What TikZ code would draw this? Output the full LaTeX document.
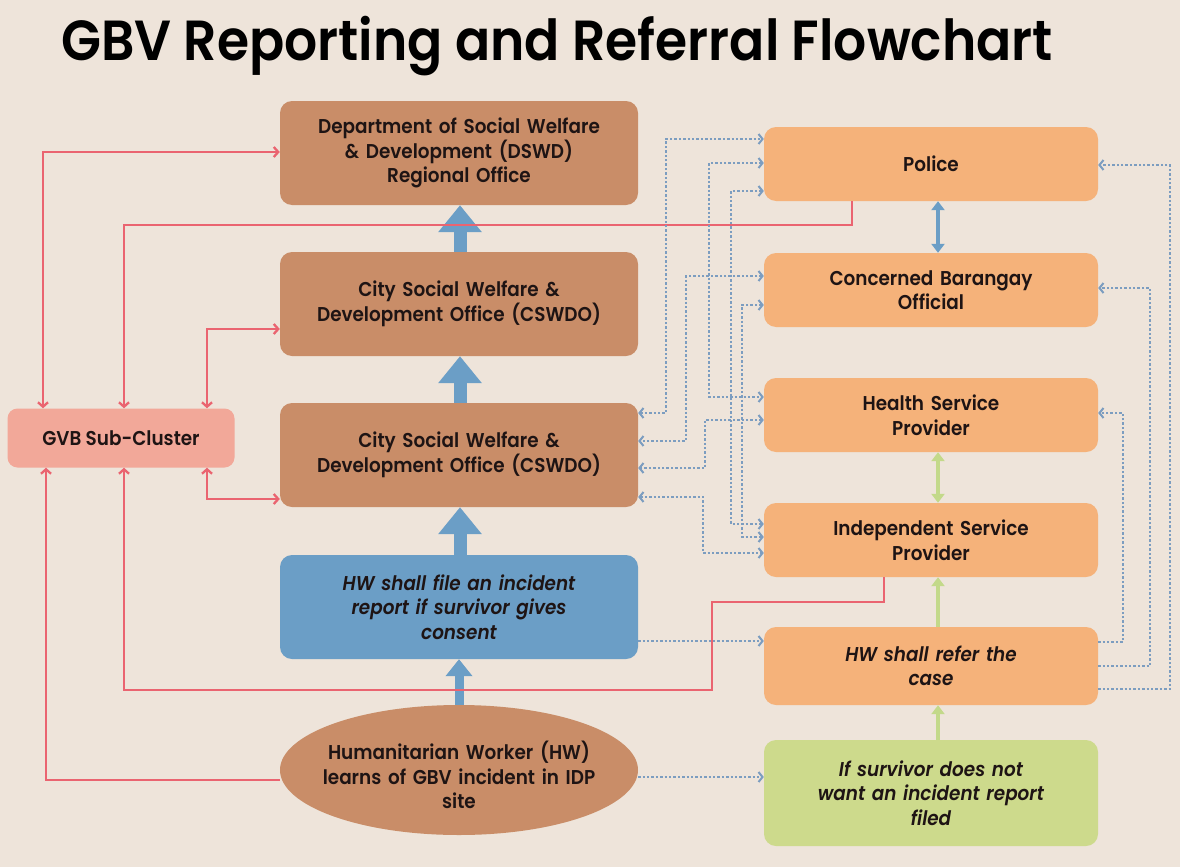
\documentclass[tikz,border=0pt]{standalone}
\usepackage{fontspec}
\setmainfont{Poppins}[FakeStretch=0.92, BoldFont={Poppins SemiBold}, BoldItalicFont={Poppins SemiBold Italic}]
\usetikzlibrary{arrows.meta,shapes.geometric}
\definecolor{bg}{HTML}{EEE4DA}
\definecolor{brownbox}{HTML}{C98D68}
\definecolor{bluebox}{HTML}{6B9EC6}
\definecolor{pinkbox}{HTML}{F2A899}
\definecolor{orangebox}{HTML}{F5B27A}
\definecolor{greenbox}{HTML}{CDDA8C}
\definecolor{redline}{HTML}{EA6470}
\definecolor{dotcol}{HTML}{7C9DC0}
\definecolor{greenarr}{HTML}{C3D98A}
\definecolor{txt}{HTML}{1E1414}
\begin{document}
\begin{tikzpicture}[x=1pt,y=-1pt,
  box/.style={rectangle, rounded corners=12pt, text=txt, align=center, inner sep=0pt,
    font=\fontsize{20}{24.5}\selectfont\bfseries},
  ibox/.style={box, font=\fontsize{20}{24.5}\selectfont\bfseries\itshape},
  brownb/.style={box, fill=brownbox, minimum width=358pt, minimum height=104pt, text width=350pt},
  orangeb/.style={box, fill=orangebox, minimum width=334pt, minimum height=74pt, text width=326pt},
  redl/.style={draw=redline, line width=2.3pt, >={Straight Barb[length=4.5pt,width=10pt]}},
  dotl/.style={draw=dotcol, line width=2.4pt, dash pattern=on 2.4pt off 2pt, >={Straight Barb[length=4pt,width=10pt,line width=2pt]}},
  bigarr/.style={draw=bluebox, line width=13pt, -{Triangle[length=27pt,width=42pt]}},
  medarr/.style={draw=bluebox, line width=9pt, -{Triangle[length=17pt,width=26pt]}},
  thinblue/.style={draw=bluebox, line width=3.5pt, >={Triangle[length=9pt,width=13pt]}},
  thingreen/.style={draw=greenarr, line width=3.5pt, >={Triangle[length=9pt,width=13pt]}}
]
\fill[bg] (0,0) rectangle (1180,867);
\useasboundingbox (0,0) rectangle (1180,867);

\node[anchor=base west, inner sep=0pt, text=black, font=\fontsize{56.5}{60}\selectfont\bfseries] (title) at (61,61) {GBV Reporting and Referral Flowchart};

% left column
\node[brownb] (DSWD) at (459,153) {Department of Social Welfare\\\& Development (DSWD)\\Regional Office};
\node[brownb] (CS1) at (459,304) {City Social Welfare \&\\Development Office (CSWDO)};
\node[brownb] (CS2) at (459,455) {City Social Welfare \&\\Development Office (CSWDO)};
\node[ibox, fill=bluebox, minimum width=358pt, minimum height=104pt, text width=350pt] (HWF) at (459,607) {HW shall file an incident\\report if survivor gives\\consent};
\node[ellipse, fill=brownbox, inner sep=0pt, minimum width=358pt, minimum height=130pt] (Ell) at (459,770) {};
\node[box, text width=340pt] (EllText) at (459,775) {Humanitarian Worker (HW)\\learns of GBV incident in IDP\\site};
\node[box, fill=pinkbox, rounded corners=10pt, minimum width=227pt, minimum height=59pt] (GVB) at (121,438) {GVB Sub-Cluster};

% right column
\node[orangeb] (Police) at (931,164) {Police};
\node[orangeb] (Bar) at (931,290) {Concerned Barangay\\Official};
\node[orangeb] (Health) at (931,415) {Health Service\\Provider};
\node[orangeb] (Indep) at (931,540) {Independent Service\\Provider};
\node[ibox, fill=orangebox, minimum width=334pt, minimum height=78pt, text width=326pt] (Refer) at (931,666) {HW shall refer the\\case};
\node[ibox, fill=greenbox, minimum width=334pt, minimum height=106pt, text width=326pt] (Surv) at (931,793) {If survivor does not\\want an incident report\\filed};

% thick blue arrows
\draw[bigarr] (CS1.north -| 460,0) -- (DSWD.south -| 460,0);
\draw[bigarr] (CS2.north -| 460,0) -- (CS1.south -| 460,0);
\draw[bigarr] (HWF.north -| 460,0) -- (CS2.south -| 460,0);
\draw[medarr] (Ell.north) -- (HWF.south);

% right thin arrows
\draw[thinblue,<->] (Police.south -| 938,0) -- (Bar.north -| 938,0);
\draw[thingreen,<->] (Health.south -| 938,0) -- (Indep.north -| 938,0);
\draw[thingreen,->] (Refer.north -| 938,0) -- (Indep.south -| 938,0);
\draw[thingreen,->] (Surv.north -| 938,0) -- (Refer.south -| 938,0);

% red connectors
\draw[redl,<->] (DSWD.west |- 0,152) -| (GVB.north -| 43,0);
\draw[redl,->] (Police.south -| 852,0) -- (852,225) -| (GVB.north -| 124,0);
\draw[redl,<->] (CS1.west |- 0,329) -| (GVB.north -| 207,0);
\draw[redl,<->] (CS2.west |- 0,499) -| (GVB.south -| 207,0);
\draw[redl,->] (Ell.west |- 0,780) -| (GVB.south -| 46,0);
\draw[redl,->] (Indep.south -| 884,0) -- (884,602) -- (712,602) -- (712,690) -| (GVB.south -| 124,0);

% dotted connectors between middle and right
\draw[dotl,<->] (CS2.east |- 0,413) -- (666,413) -- (666,139) -- (Police.west |- 0,139);
\draw[dotl,<->] (Police.west |- 0,163) -- (709,163) -- (709,397) -- (Health.west |- 0,397);
\draw[dotl,<->] (Police.west |- 0,191) -- (731,191) -- (731,524) -- (Indep.west |- 0,524);
\draw[dotl,<->] (Bar.west |- 0,276) -- (686,276) -- (686,441) -- (CS2.east |- 0,441);
\draw[dotl,<->] (Bar.west |- 0,305) -- (742,305) -- (742,537) -- (Indep.west |- 0,537);
\draw[dotl,<->] (Health.west |- 0,420) -- (705,420) -- (705,468) -- (CS2.east |- 0,468);
\draw[dotl,<->] (CS2.east |- 0,497) -- (703,497) -- (703,553) -- (Indep.west |- 0,553);
\draw[dotl,->] (HWF.east |- 0,641) -- (Refer.west |- 0,641);
\draw[dotl,->] (Ell.east |- 0,777) -- (Surv.west |- 0,777);

% dotted connectors on the far right
\draw[dotl,->] (Refer.east |- 0,642) -- (1123,642) -- (1123,413) -- (Health.east |- 0,413);
\draw[dotl,->] (Refer.east |- 0,666) -- (1150,666) -- (1150,288) -- (Bar.east |- 0,288);
\draw[dotl,->] (Refer.east |- 0,689) -- (1170,689) -- (1170,165) -- (Police.east |- 0,165);
\end{tikzpicture}
\end{document}
